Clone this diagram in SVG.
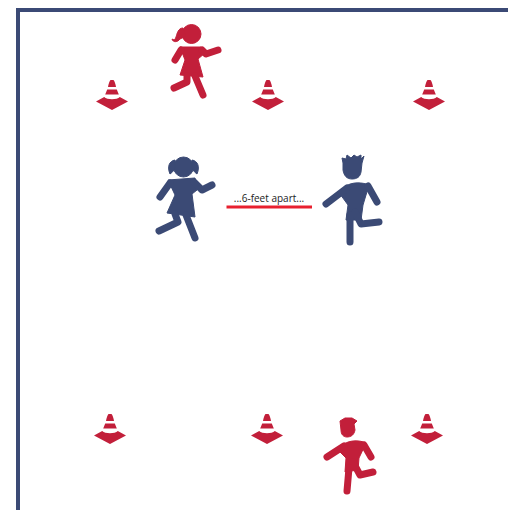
<svg xmlns="http://www.w3.org/2000/svg" xmlns:xlink="http://www.w3.org/1999/xlink" width="508" height="510" viewBox="0 0 508 510">
<style>
.red{fill:#c21f3a;stroke:#c21f3a}
.blue{fill:#3b4a75;stroke:#3b4a75}
.limb{fill:none;stroke-width:7;stroke-linecap:round;stroke-linejoin:round}
.limbr{stroke:#c21f3a}.limbb{stroke:#3b4a75}
.b{stroke-width:1;stroke-linejoin:round}
.cone{fill:#c21f3a}
text{font-family:"Open Sans","Liberation Sans",sans-serif;font-size:10px;fill:#222}
</style>
<defs>
<g id="cone-shape">
<path d="M-1.5 0H1.5Q3 1.5 4 7H-4Q-3 1.5 -1.5 0Z"/>
<path d="M-4.8 9.5H4.8L6.8 14.5H-6.8Z"/>
<path d="M-7.8 17C-5 20 5 20 7.8 17L16 21.5L0 30L-16 21.5Z"/>
</g>
</defs>
<rect width="508" height="510" fill="#fff"/>
<path id="frame" d="M18 510V10H508" fill="none" stroke="#3b4a75" stroke-width="4"/>
<g id="cone-1" class="cone"><use xlink:href="#cone-shape" href="#cone-shape" x="112" y="80"/></g>
<g id="cone-2" class="cone"><use xlink:href="#cone-shape" href="#cone-shape" x="268" y="80"/></g>
<g id="cone-3" class="cone"><use xlink:href="#cone-shape" href="#cone-shape" x="429" y="80"/></g>
<g id="cone-4" class="cone"><use xlink:href="#cone-shape" href="#cone-shape" x="110" y="414"/></g>
<g id="cone-5" class="cone"><use xlink:href="#cone-shape" href="#cone-shape" x="267" y="414"/></g>
<g id="cone-6" class="cone"><use xlink:href="#cone-shape" href="#cone-shape" x="427" y="414"/></g>
<g id="red-girl">
<circle class="red b" cx="191.5" cy="34" r="9.5"/>
<path class="red b" d="M183 28C178 28 177 34 176 37C175 40 174 40 172 39C173 43 178 42 180 39L186 36Z"/>
<path class="red b" d="M180 47H201L205 53L198 59L203 77L180 75L185 60Z"/>
<path class="limb limbr" d="M181 50L175 60M202 50L206 54L218 50M187 76L187 82L174 88M195 76L203 95"/>
</g>
<g id="blue-girl">
<circle class="blue b" cx="183.500" cy="167" r="10"/>
<path class="blue b" d="M175 160C169 161 167 167 170 174C173 172 174 170 175 168ZM192 160C198 161 200 167 197 174C194 172 193 170 192 168Z"/>
<path class="blue b" d="M168 180L195 178L197 190L192 194L195 217L167 213L175 195Z"/>
<path class="limb limbb" d="M170 183L160 197M194 182L202 190L212 185M175 214L178 222L159 231M186 215L195 238"/>
</g>
<g id="distance">
<text x="269" y="202" text-anchor="middle">...6-feet apart...</text>
<path d="M226.500 207H312" stroke="#e8202f" stroke-width="3" fill="none"/>
</g>
<g id="blue-boy">
<path class="blue b" d="M342 158L346 159L347 155L351 158L354 155L357 157L361 155L361 159L364 156L362 163L361 172C360 177 357 179 352 179C347 179 344 176 343 170L343 163Z"/>
<path class="blue b" d="M346 186C352 182 362 182 369 185L363 205L361 220L346 220L348 205L340 194Z"/>
<path class="limb limbb" d="M347 188L326 204M368 186L377 202M350 215L350 242M355 212L361 224L379 222"/>
</g>
<g id="red-boy">
<path class="red b" d="M340 421L345 418L352 418L357 421L354 424L355 430C354 435 351 437 347 437C343 437 341 434 341 430Z"/>
<path class="red b" d="M344 444C350 440 360 440 366 443L359 458L358 470L345 472L346 458L338 450Z"/>
<path class="limb limbr" d="M344 446L327 457M364 445L371 457M349 468L347 491M353 462L360 475L373 472"/>
</g>
</svg>
